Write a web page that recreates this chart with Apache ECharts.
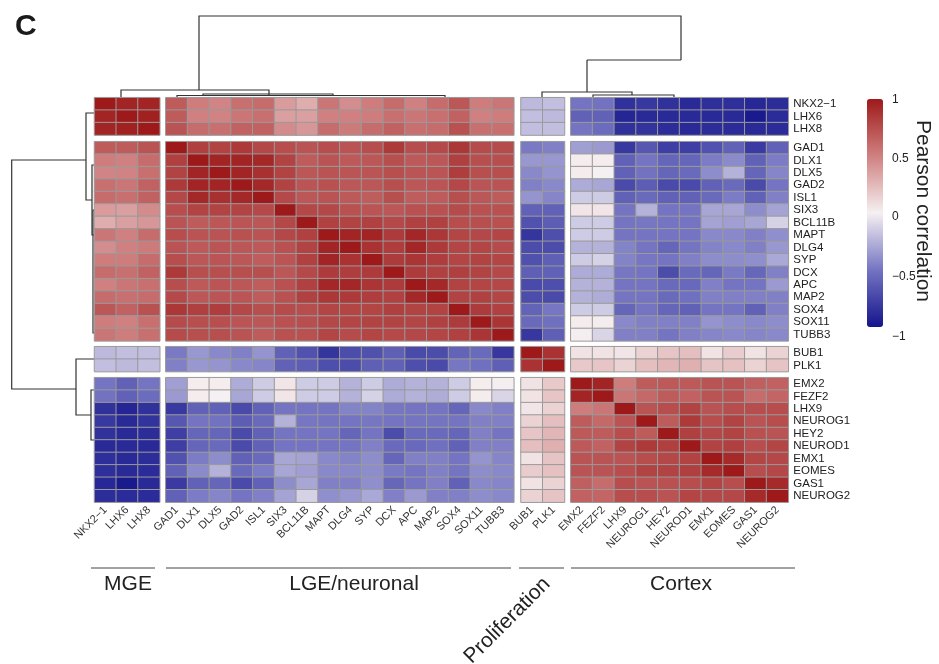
<!DOCTYPE html>
<html><head><meta charset="utf-8">
<script src="https://cdn.jsdelivr.net/npm/echarts@6/dist/echarts.min.js"></script>
<style>html,body{margin:0;padding:0;background:#fff}#c{width:939px;height:664px}</style>
</head><body><div id="c"></div>
<script>
// ---- gene groups (column / row order) ----
const mgeGenes = ['NKX2\u22121','LHX6','LHX8'];
const lgeGenes = ['GAD1','DLX1','DLX5','GAD2','ISL1','SIX3','BCL11B','MAPT','DLG4','SYP','DCX','APC','MAP2','SOX4','SOX11','TUBB3'];
const prolifGenes = ['BUB1','PLK1'];
const cortexGenes = ['EMX2','FEZF2','LHX9','NEUROG1','HEY2','NEUROD1','EMX1','EOMES','GAS1','NEUROG2'];
const groupNames = ['MGE','LGE/neuronal','Proliferation','Cortex'];
const legendTicks = ['1','0.5','0','\u22120.5','\u22121'];

// ---- Pearson correlations, one row per gene (columns: MGE | LGE | Prolif | Cortex) ----
const mgeRows = [
 [1,0.95,0.95, 0.68,0.52,0.48,0.58,0.6,0.38,0.3,0.55,0.44,0.52,0.6,0.5,0.6,0.7,0.52,0.55, -0.22,-0.2, -0.5,-0.51,-0.85,-0.81,-0.85,-0.89,-0.86,-0.86,-0.9,-0.87],
 [0.95,1,0.97, 0.68,0.5,0.49,0.55,0.58,0.36,0.36,0.5,0.5,0.52,0.58,0.55,0.58,0.65,0.5,0.52, -0.2,-0.22, -0.6,-0.6,-0.91,-0.89,-0.89,-0.89,-0.89,-0.89,-0.97,-0.88],
 [0.95,0.97,1, 0.72,0.6,0.58,0.65,0.65,0.45,0.4,0.6,0.53,0.6,0.65,0.58,0.6,0.73,0.58,0.58, -0.2,-0.2, -0.5,-0.54,-0.85,-0.84,-0.87,-0.89,-0.87,-0.88,-0.89,-0.88]
];
const lgeRows = [
 [0.68,0.68,0.72, 1,0.82,0.8,0.85,0.78,0.75,0.72,0.75,0.72,0.75,0.85,0.75,0.77,0.86,0.76,0.76, -0.48,-0.45, -0.33,-0.35,-0.81,-0.65,-0.78,-0.78,-0.68,-0.6,-0.8,-0.6],
 [0.52,0.5,0.6, 0.82,1,0.95,0.95,0.93,0.8,0.68,0.72,0.69,0.7,0.74,0.69,0.7,0.82,0.74,0.74, -0.36,-0.36, 0.02,0.02,-0.6,-0.5,-0.58,-0.58,-0.47,-0.41,-0.6,-0.47],
 [0.48,0.49,0.58, 0.8,0.95,1,0.95,0.89,0.8,0.7,0.72,0.71,0.71,0.74,0.71,0.71,0.83,0.74,0.74, -0.42,-0.37, 0.02,0,-0.6,-0.51,-0.58,-0.55,-0.4,-0.25,-0.58,-0.43],
 [0.58,0.55,0.65, 0.85,0.95,0.95,1,0.93,0.8,0.71,0.73,0.7,0.7,0.74,0.7,0.71,0.78,0.71,0.72, -0.45,-0.42, -0.28,-0.3,-0.72,-0.62,-0.72,-0.72,-0.6,-0.55,-0.72,-0.5],
 [0.6,0.58,0.65, 0.78,0.93,0.89,0.93,1,0.77,0.7,0.72,0.69,0.67,0.74,0.67,0.68,0.74,0.7,0.68, -0.37,-0.43, -0.15,-0.15,-0.6,-0.55,-0.6,-0.6,-0.55,-0.47,-0.6,-0.45],
 [0.38,0.36,0.45, 0.75,0.8,0.8,0.8,0.77,1,0.78,0.78,0.73,0.71,0.7,0.73,0.73,0.76,0.73,0.73, -0.6,-0.6, 0.05,0.05,-0.5,-0.25,-0.5,-0.5,-0.3,-0.3,-0.4,-0.31],
 [0.3,0.36,0.4, 0.72,0.68,0.7,0.71,0.7,0.78,1,0.81,0.8,0.81,0.77,0.81,0.81,0.75,0.74,0.73, -0.68,-0.62, -0.15,-0.15,-0.5,-0.49,-0.5,-0.5,-0.31,-0.33,-0.3,-0.12],
 [0.55,0.5,0.6, 0.75,0.72,0.72,0.73,0.72,0.78,0.81,1,0.95,0.95,0.84,0.94,0.86,0.79,0.78,0.79, -0.83,-0.7, -0.15,-0.15,-0.5,-0.5,-0.5,-0.5,-0.42,-0.42,-0.45,-0.39],
 [0.44,0.5,0.53, 0.72,0.69,0.71,0.7,0.69,0.73,0.8,0.95,1,0.88,0.83,0.94,0.85,0.79,0.79,0.76, -0.71,-0.71, -0.25,-0.25,-0.44,-0.5,-0.58,-0.5,-0.44,-0.42,-0.45,-0.36],
 [0.52,0.52,0.6, 0.75,0.7,0.71,0.7,0.67,0.71,0.81,0.95,0.88,1,0.84,0.87,0.83,0.79,0.8,0.79, -0.69,-0.61, -0.15,-0.12,-0.44,-0.49,-0.5,-0.45,-0.4,-0.4,-0.39,-0.29],
 [0.6,0.58,0.65, 0.85,0.74,0.74,0.74,0.74,0.7,0.77,0.84,0.83,0.84,1,0.84,0.81,0.82,0.8,0.77, -0.61,-0.6, -0.28,-0.28,-0.49,-0.5,-0.71,-0.55,-0.58,-0.48,-0.57,-0.45],
 [0.5,0.55,0.58, 0.75,0.69,0.71,0.7,0.67,0.73,0.81,0.94,0.94,0.87,0.84,1,0.93,0.8,0.79,0.78, -0.72,-0.7, -0.25,-0.25,-0.5,-0.5,-0.55,-0.56,-0.45,-0.5,-0.5,-0.35],
 [0.6,0.58,0.6, 0.77,0.7,0.71,0.71,0.68,0.73,0.81,0.86,0.85,0.83,0.81,0.93,1,0.8,0.81,0.79, -0.71,-0.72, -0.25,-0.27,-0.5,-0.5,-0.55,-0.52,-0.45,-0.45,-0.45,-0.45],
 [0.7,0.65,0.73, 0.86,0.82,0.83,0.78,0.74,0.76,0.75,0.79,0.79,0.79,0.82,0.8,0.8,1,0.84,0.81, -0.59,-0.49, -0.15,-0.15,-0.58,-0.5,-0.58,-0.6,-0.5,-0.5,-0.6,-0.45],
 [0.52,0.5,0.58, 0.76,0.74,0.74,0.71,0.7,0.73,0.74,0.78,0.79,0.8,0.8,0.79,0.81,0.84,1,0.87, -0.55,-0.52, 0.02,0.02,-0.42,-0.45,-0.45,-0.45,-0.37,-0.4,-0.42,-0.4],
 [0.55,0.52,0.58, 0.76,0.74,0.74,0.72,0.68,0.73,0.73,0.79,0.76,0.79,0.77,0.78,0.79,0.81,0.87,1, -0.82,-0.61, 0.01,-0.11,-0.45,-0.45,-0.5,-0.45,-0.43,-0.42,-0.43,-0.42]
];
const prolifRows = [
 [-0.22,-0.2,-0.2, -0.48,-0.36,-0.42,-0.45,-0.37,-0.6,-0.68,-0.83,-0.71,-0.69,-0.61,-0.72,-0.71,-0.59,-0.55,-0.82, 1,0.88, 0.06,0.06,0.05,0.13,0.19,0.22,0.06,0.16,0.06,0.13],
 [-0.2,-0.22,-0.2, -0.45,-0.36,-0.37,-0.42,-0.43,-0.6,-0.62,-0.7,-0.71,-0.61,-0.6,-0.7,-0.72,-0.49,-0.52,-0.61, 0.88,1, 0.18,0.19,0.13,0.22,0.26,0.29,0.2,0.21,0.13,0.2]
];
const cortexRows = [
 [-0.5,-0.6,-0.5, -0.33,0.02,0.02,-0.28,-0.15,0.05,-0.15,-0.15,-0.25,-0.15,-0.28,-0.25,-0.25,-0.15,0.02,0.01, 0.06,0.18, 1,0.95,0.52,0.68,0.69,0.69,0.72,0.72,0.66,0.65],
 [-0.51,-0.6,-0.54, -0.35,0.02,0,-0.3,-0.15,0.05,-0.15,-0.15,-0.25,-0.12,-0.28,-0.25,-0.27,-0.15,0.02,-0.11, 0.06,0.19, 0.95,1,0.55,0.62,0.68,0.65,0.72,0.72,0.6,0.63],
 [-0.85,-0.91,-0.85, -0.81,-0.6,-0.6,-0.72,-0.6,-0.5,-0.5,-0.5,-0.44,-0.44,-0.49,-0.5,-0.5,-0.58,-0.42,-0.45, 0.05,0.13, 0.52,0.55,1,0.72,0.75,0.8,0.72,0.75,0.75,0.75],
 [-0.81,-0.89,-0.84, -0.65,-0.5,-0.51,-0.62,-0.55,-0.25,-0.49,-0.5,-0.5,-0.49,-0.5,-0.5,-0.5,-0.5,-0.45,-0.45, 0.13,0.22, 0.68,0.62,0.72,1,0.68,0.85,0.75,0.8,0.72,0.75],
 [-0.85,-0.89,-0.87, -0.78,-0.58,-0.58,-0.72,-0.6,-0.5,-0.5,-0.5,-0.58,-0.5,-0.71,-0.55,-0.55,-0.58,-0.45,-0.5, 0.19,0.26, 0.69,0.68,0.75,0.68,1,0.82,0.78,0.8,0.73,0.72],
 [-0.89,-0.89,-0.89, -0.78,-0.58,-0.55,-0.72,-0.6,-0.5,-0.5,-0.5,-0.5,-0.45,-0.55,-0.56,-0.52,-0.6,-0.45,-0.45, 0.22,0.29, 0.69,0.65,0.8,0.85,0.82,1,0.8,0.82,0.75,0.79],
 [-0.86,-0.89,-0.87, -0.68,-0.47,-0.4,-0.6,-0.55,-0.3,-0.31,-0.42,-0.44,-0.4,-0.58,-0.45,-0.45,-0.5,-0.37,-0.43, 0.06,0.2, 0.72,0.72,0.72,0.75,0.78,0.8,1,0.92,0.79,0.78],
 [-0.86,-0.89,-0.88, -0.6,-0.41,-0.25,-0.55,-0.47,-0.3,-0.33,-0.42,-0.42,-0.4,-0.48,-0.5,-0.45,-0.5,-0.4,-0.42, 0.16,0.21, 0.72,0.72,0.75,0.8,0.8,0.82,0.92,1,0.75,0.78],
 [-0.9,-0.97,-0.89, -0.8,-0.6,-0.58,-0.72,-0.6,-0.4,-0.3,-0.45,-0.45,-0.39,-0.57,-0.5,-0.45,-0.6,-0.42,-0.43, 0.06,0.13, 0.66,0.6,0.75,0.72,0.73,0.75,0.79,0.75,1,0.92],
 [-0.87,-0.88,-0.88, -0.6,-0.47,-0.43,-0.5,-0.45,-0.31,-0.12,-0.39,-0.36,-0.29,-0.45,-0.35,-0.45,-0.45,-0.4,-0.42, 0.13,0.2, 0.65,0.63,0.75,0.75,0.72,0.79,0.78,0.78,0.92,1]
];

// ---- layout ----
const FONT = '"Liberation Sans", Arial, Helvetica, sans-serif';
const CW = 21.75, CH = 12.45;
const colLeft = [94.5, 165.8, 521, 570.8];
const rowTop = [97.7, 141.7, 346.7, 377.7];
const groups = [mgeGenes, lgeGenes, prolifGenes, cortexGenes];
const rowsByGroup = [mgeRows, lgeRows, prolifRows, cortexRows];
const offsets = [];
{ let o = 0; groups.forEach(g => { offsets.push(o); o += g.length; }); }

const grid = [], xAxis = [], yAxis = [], series = [];
for (let r = 0; r < 4; r++) {
  for (let c = 0; c < 4; c++) {
    const g = r * 4 + c;
    grid.push({ left: colLeft[c], top: rowTop[r], width: CW * groups[c].length, height: CH * groups[r].length, containLabel: false });
    xAxis.push({
      type: 'category', gridIndex: g, data: groups[c], position: 'bottom',
      axisLine: { show: false }, axisTick: { show: false }, splitLine: { show: false },
      axisLabel: { show: r === 3, rotate: 45, interval: 0, fontSize: 11, color: '#333', fontFamily: FONT, margin: 6 }
    });
    yAxis.push({
      type: 'category', gridIndex: g, data: groups[r], inverse: true, position: 'right',
      axisLine: { show: false }, axisTick: { show: false }, splitLine: { show: false },
      axisLabel: { show: c === 3, interval: 0, fontSize: 11.5, color: '#222', fontFamily: FONT, margin: 5 }
    });
    const data = [];
    rowsByGroup[r].forEach((row, i) => {
      groups[c].forEach((_, j) => data.push([j, i, row[offsets[c] + j]]));
    });
    series.push({
      type: 'heatmap', xAxisIndex: g, yAxisIndex: g, data,
      itemStyle: { borderColor: '#9a9a9a', borderWidth: 1 },
      emphasis: { disabled: true }
    });
  }
}

// ---- decorations: dendrograms, group brackets, legend text ----
const line = pts => ({ type: 'polyline', silent: true, shape: { points: pts }, style: { stroke: '#333', lineWidth: 1.2, fill: null } });
const text = (x, y, t, o) => Object.assign({ type: 'text', silent: true, x, y, style: Object.assign({ text: t, fill: '#222', font: '12px ' + FONT, textAlign: 'left', textVerticalAlign: 'middle' }, o && o.style) }, o && o.extra);

const graphic = [];
// top dendrogram
graphic.push(line([[199, 90], [199, 16], [681, 16], [681, 60]]));
graphic.push(line([[587, 60], [681, 60]]));
graphic.push(line([[121, 97], [121, 90], [269, 90], [269, 95]]));
graphic.push(line([[177, 97], [177, 95.5], [445, 95.5], [445, 97]]));
graphic.push(line([[203, 95.5], [203, 94], [333, 94], [333, 95.5]]));
graphic.push(line([[542, 97], [542, 92], [632, 92], [632, 95]]));
graphic.push(line([[587, 92], [587, 60]]));
graphic.push(line([[593, 97], [593, 95], [674, 95], [674, 97]]));
// left dendrogram
graphic.push(line([[86, 160], [11.7, 160], [11.7, 389], [76, 389]]));
graphic.push(line([[94, 113], [86, 113], [86, 200], [92, 200]]));
graphic.push(line([[94, 165], [92, 165], [92, 235], [94, 235]]));
graphic.push(line([[94, 210], [93, 210], [93, 333], [94, 333]]));
graphic.push(line([[94, 359], [76, 359], [76, 415], [91, 415]]));
graphic.push(line([[94, 390], [91, 390], [91, 440], [94, 440]]));

// group brackets below
const brackets = [[91, 155], [166, 511], [519, 564], [571, 795]];
brackets.forEach(b => graphic.push({ type: 'line', silent: true, shape: { x1: b[0], y1: 568, x2: b[1], y2: 568 }, style: { stroke: '#444', lineWidth: 1 } }));
graphic.push(text(128, 584, groupNames[0], { style: { font: '21px ' + FONT, textAlign: 'center' } }));
graphic.push(text(354, 584, groupNames[1], { style: { font: '21px ' + FONT, textAlign: 'center' } }));
graphic.push(text(547, 581, groupNames[2], { style: { font: '21px ' + FONT, textAlign: 'right' }, extra: { rotation: Math.PI / 4 } }));
graphic.push(text(681, 584, groupNames[3], { style: { font: '21px ' + FONT, textAlign: 'center' } }));

// legend ticks and title
const tickY = [100, 159, 217, 277, 337];
legendTicks.forEach((t, i) => graphic.push(text(892, tickY[i], t, { style: { font: '12px ' + FONT } })));
graphic.push(text(923, 211, 'Pearson correlation', { style: { font: '21px ' + FONT, textAlign: 'center' }, extra: { rotation: -Math.PI / 2 } }));
// panel letter
graphic.push(text(15, 27, 'C', { style: { font: 'bold 30px ' + FONT, fill: '#1a1a1a' } }));

const chart = echarts.init(document.getElementById('c'));
chart.setOption({
  animation: false,
  backgroundColor: '#fff',
  grid, xAxis, yAxis, series,
  visualMap: {
    type: 'continuous', min: -1, max: 1, dimension: 2, calculable: false,
    orient: 'vertical', left: 867, top: 99, itemWidth: 16, itemHeight: 228, padding: 0,
    showLabel: false, text: null,
    inRange: { color: ['#14148c', '#7474c2', '#f5f0f2', '#d08080', '#9e1a1a'] }
  },
  graphic
});
</script></body></html>
